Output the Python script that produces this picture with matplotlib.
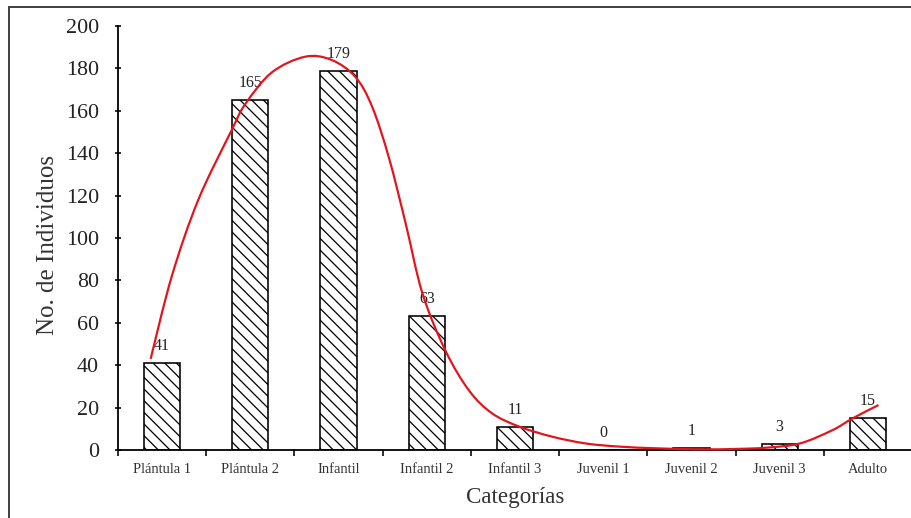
import numpy as np
import matplotlib
matplotlib.use("Agg")
import matplotlib.pyplot as plt
from matplotlib.patches import Rectangle, PathPatch
from matplotlib.path import Path

categories = ["Plántula 1", "Plántula 2", "Infantil", "Infantil 2", "Infantil 3",
              "Juvenil 1", "Juvenil 2", "Juvenil 3", "Adulto"]
values = [41, 165, 179, 63, 11, 0, 1, 3, 15]
y_ticks = [0, 20, 40, 60, 80, 100, 120, 140, 160, 180, 200]

# red trend curve (category-index position, value)
trend_x = [-0.13, 0.11, 0.41, 0.79, 0.94, 1.24, 1.62, 1.92, 2.19, 2.38, 2.57, 2.76,
           2.95, 3.21, 3.48, 3.74, 4.05, 4.42, 4.80, 5.18, 5.60, 6.09, 6.50, 6.85,
           7.23, 7.60, 7.83, 8.12]
trend_y = [43, 82, 118, 151, 163, 178, 185.5, 184, 176, 162, 138, 107,
           74, 47, 28, 17.3, 11, 6.3, 3.1, 1.6, 0.8, 0.3, 0.5, 1.1,
           3.1, 9.4, 15, 21.2]

DPI = 70
W, H = 911, 518
plt.rcParams['font.family'] = ['Liberation Serif', 'DejaVu Serif']
plt.rcParams['hatch.linewidth'] = 1.3
pt = 72 / DPI

fig = plt.figure(figsize=(W / DPI, H / DPI), dpi=DPI)
ax = fig.add_axes([118 / W, 1 - 450 / H, (912 - 118) / W, (450 - 26) / H])

x = np.arange(len(categories))
ax.bar(x, values, width=0.41, facecolor='white', edgecolor='black',
       hatch='\\\\', linewidth=1.6 * pt, zorder=2)

for xi, v in zip(x, values):
    ax.annotate(str(v), (xi, v), xytext=(0, 9), textcoords='offset pixels',
                ha='center', va='bottom', fontsize=16 * pt, color='#222222')

# smooth curve through the read points (Catmull-Rom -> cubic Bezier path)
P = np.column_stack([trend_x, trend_y])
verts = [P[0]]
codes = [Path.MOVETO]
for k in range(len(P) - 1):
    p0 = P[k - 1] if k > 0 else P[k]
    p1, p2 = P[k], P[k + 1]
    p3 = P[k + 2] if k + 2 < len(P) else P[k + 1]
    c1 = p1 + (p2 - p0) / 6.0
    c2 = p2 - (p3 - p1) / 6.0
    verts += [c1, c2, p2]
    codes += [Path.CURVE4] * 3
ax.add_patch(PathPatch(Path(verts, codes), facecolor='none', edgecolor='#e3141c',
                       linewidth=2.2 * pt, zorder=3, clip_on=False))

ax.set_xlim(-0.5, len(categories) - 0.5)
ax.set_ylim(0, 200)
ax.set_yticks(y_ticks)
ax.set_yticklabels([str(t) for t in y_ticks], fontsize=22 * pt, color='#222222')
ax.set_xticks(x)
ax.set_xticklabels(categories, fontsize=14.5 * pt, color='#333333')
ax.set_xticks(np.arange(len(categories) + 1) - 0.5, minor=True)
ax.tick_params(axis='x', which='major', length=0, pad=13)
ax.tick_params(axis='x', which='minor', length=6, width=1.6 * pt, direction='out')
ax.tick_params(axis='y', length=7, width=1.6 * pt, direction='inout', pad=16)

for s in ['top', 'right']:
    ax.spines[s].set_visible(False)
for s in ['left', 'bottom']:
    ax.spines[s].set_linewidth(1.8 * pt)

ax.set_xlabel("Categorías", fontsize=23 * pt, color='#333333')
ax.xaxis.set_label_coords(0.5, -0.088)
ax.set_ylabel("No. de Individuos", fontsize=25 * pt, color='#333333')
ax.yaxis.set_label_coords(-0.074, 0.483)

fig.patches.append(Rectangle((9 / W, -0.5), 2, 1.5 - 7 / H, transform=fig.transFigure,
                             fill=False, edgecolor='#444444', linewidth=2 * pt))

fig.savefig("out.png", dpi=DPI)
